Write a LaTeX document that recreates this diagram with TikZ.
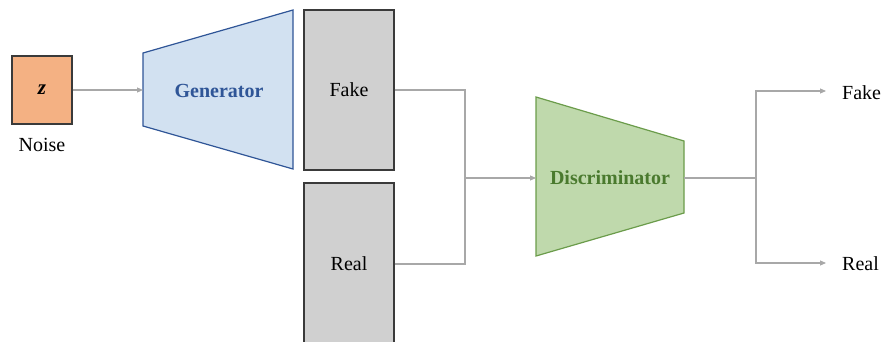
\documentclass[tikz,border=0pt]{standalone}
\usepackage{fontspec}
\setmainfont{Liberation Serif}
\usetikzlibrary{arrows.meta}

\definecolor{noisefill}{HTML}{F4B183}
\definecolor{genfill}{HTML}{D2E1F1}
\definecolor{genline}{HTML}{2F5597}
\definecolor{discfill}{HTML}{BFD9AC}
\definecolor{discline}{HTML}{6B9C4B}
\definecolor{disctext}{HTML}{4A7A2E}
\definecolor{samplefill}{HTML}{D0D0D0}
\definecolor{boxline}{HTML}{3A3A3A}
\definecolor{wire}{HTML}{A8A8A8}

\tikzset{
  lbl/.style={font=\fontsize{20}{24}\selectfont, text=black},
  noisebox/.style={draw=boxline, line width=1.3pt, fill=noisefill,
    minimum width=60pt, minimum height=68pt, inner sep=0pt},
  samplebox/.style={draw=boxline, line width=1.3pt, fill=samplefill,
    minimum width=90pt, inner sep=0pt, lbl},
  genshape/.style={draw=genline, line width=1.2pt, fill=genfill, line join=miter},
  discshape/.style={draw=discline, line width=1.2pt, fill=discfill, line join=miter},
  wireline/.style={draw=wire, line width=1.1pt},
  wirearrow/.style={wireline, -{Triangle[length=6pt,width=5pt]}},
}

\begin{document}
\begin{tikzpicture}[x=1pt,y=-1pt]
\useasboundingbox (0,0) rectangle (882,342);
\clip (0,0) rectangle (882,342);

% latent noise input
\node[noisebox, font=\fontsize{21}{24}\selectfont\bfseries\itshape] (z) at (42,90) {z};
\node[lbl, inner sep=0pt] (noise) at (42,145) {Noise};

% generator
\draw[genshape] (143,53) -- (293,10) -- (293,169) -- (143,126) -- cycle;
\coordinate (genin) at (143,90);
\node[lbl, text=genline, font=\fontsize{20}{24}\selectfont\bfseries] (gen) at (219,91) {Generator};

% fake and real samples
\node[samplebox, minimum height=160pt] (fake) at (349,90) {Fake};
\node[samplebox, minimum height=162pt] (real) at (349,264) {Real};

% discriminator
\draw[discshape] (536,97) -- (684,141) -- (684,213) -- (536,256) -- cycle;
\coordinate (discin) at (536,178);
\coordinate (discout) at (684,178);
\node[lbl, text=disctext, font=\fontsize{20}{24}\selectfont\bfseries] (disc) at (610,178) {Discriminator};

% outputs
\node[lbl, anchor=west, inner sep=0pt] (outfake) at (842,93) {Fake};
\node[lbl, anchor=west, inner sep=0pt] (outreal) at (842,264) {Real};
\coordinate (fakeend) at (826,91);
\coordinate (realend) at (826,263);

% junctions
\coordinate (merge) at (465,178);
\coordinate (split) at (756,178);

% connectors
\draw[wirearrow] (z.east) -- (genin);
\draw[wireline] (fake.east) -| (merge);
\draw[wireline] (real.east) -| (merge);
\draw[wirearrow] (merge) -- (discin);
\draw[wireline] (discout) -- (split);
\draw[wirearrow] (split) |- (fakeend);
\draw[wirearrow] (split) |- (realend);
\end{tikzpicture}
\end{document}
